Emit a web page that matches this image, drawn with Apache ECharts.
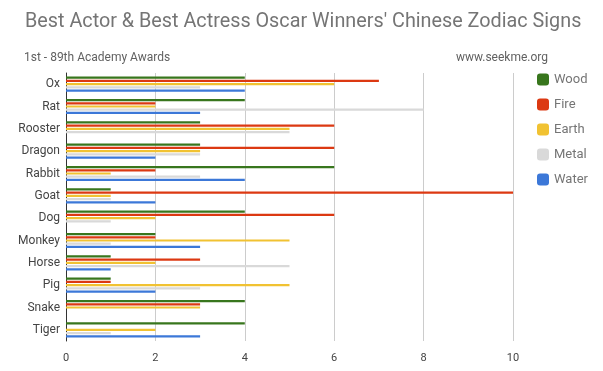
<!DOCTYPE html>
<html><head><meta charset="utf-8">
<script src="https://cdn.jsdelivr.net/npm/echarts@6/dist/echarts.min.js"></script>
<style>html,body{margin:0;padding:0;background:#fff}#c{width:603px;height:371px}</style>
</head><body><div id="c"></div>
<script>
const categories = ['Ox','Rat','Rooster','Dragon','Rabbit','Goat','Dog','Monkey','Horse','Pig','Snake','Tiger'];
const seriesNames = ['Wood','Fire','Earth','Metal','Water'];
const wood  = [4,4,3,3,6,1,4,2,1,1,4,4];
const fire  = [7,2,6,6,2,10,6,2,3,1,3,0];
const earth = [6,2,5,3,1,1,2,5,2,5,3,2];
const metal = [3,8,5,3,3,1,1,1,5,3,0,1];
const water = [4,3,0,2,4,2,0,3,1,2,0,3];
const xTicks = [0,2,4,6,8,10];
const colors = ['#38761d','#dc3912','#f1c232','#d9d9d9','#3c78d8'];
const values = [wood, fire, earth, metal, water];

const chart = echarts.init(document.getElementById('c'), null, {renderer:'canvas'});
chart.setOption({
  animation:false,
  color: colors,
  title: [
    {text:"Best Actor & Best Actress Oscar Winners' Chinese Zodiac Signs", left:20, top:7,
     textStyle:{fontFamily:'Roboto', fontSize:19.8, fontWeight:'normal', color:'#757575'}},
    {text:'1st - 89th Academy Awards', left:19, top:47,
     textStyle:{fontFamily:'Roboto', fontSize:12, fontWeight:'normal', color:'#616161'}},
    {text:'www.seekme.org', right:50, top:47,
     textStyle:{fontFamily:'Roboto', fontSize:12, fontWeight:'normal', color:'#616161'}}
  ],
  legend: {
    orient:'vertical', left:532, top:68, itemGap:12, itemWidth:12, itemHeight:12,
    icon:'roundRect',
    textStyle:{fontFamily:'Roboto', fontSize:13, color:'#757575'},
    data: seriesNames
  },
  grid: {left:66, right:90, top:73, bottom:30, containLabel:false},
  xAxis: {
    type:'value', min:0, max:10, interval:2,
    axisLine:{show:false}, axisTick:{show:false},
    splitLine:{lineStyle:{color:'#cccccc', width:1}},
    axisLabel:{fontFamily:'Roboto', fontSize:11, color:'#444', margin:12,
      formatter: v => xTicks.includes(v) ? String(v) : ''}
  },
  yAxis: {
    type:'category', data:categories, inverse:true,
    axisLine:{show:true, lineStyle:{color:'#333', width:1}},
    axisTick:{show:false},
    axisLabel:{fontFamily:'Roboto', fontSize:12, color:'#444', margin:6}
  },
  series: seriesNames.map((n,i)=>({
    name:n, type:'bar', data:values[i], barGap:'45%', barCategoryGap:'32%',
    itemStyle:{color:colors[i]}
  }))
});
</script></body></html>
